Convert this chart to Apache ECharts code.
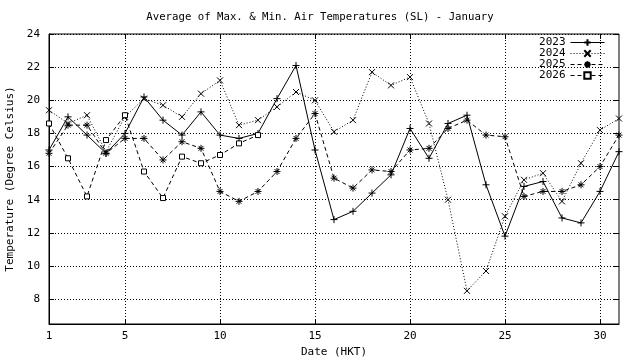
<!DOCTYPE html>
<html>
<head>
<meta charset="utf-8">
<script src="https://cdn.jsdelivr.net/npm/echarts@6/dist/echarts.min.js"></script>
<style>html,body{margin:0;padding:0;background:#fff}#c{width:640px;height:360px}</style>
</head>
<body>
<div id="c"></div>
<script>
var days = [1,2,3,4,5,6,7,8,9,10,11,12,13,14,15,16,17,18,19,20,21,22,23,24,25,26,27,28,29,30,31];
var t2023 = [17.0,19.0,17.9,16.8,18.0,20.2,18.8,17.9,19.3,17.9,17.7,18.0,20.1,22.1,17.0,12.8,13.3,14.4,15.5,18.3,16.5,18.6,19.1,14.9,11.8,14.8,15.1,12.9,12.6,14.5,16.9];
var t2024 = [19.4,18.6,19.1,16.9,19.0,20.1,19.7,19.0,20.4,21.2,18.5,18.8,19.6,20.5,20.0,18.1,18.8,21.7,20.9,21.4,18.6,14.0,8.5,9.7,13.0,15.2,15.6,13.9,16.2,18.2,18.9];
var t2025 = [16.8,18.5,18.5,16.8,17.7,17.7,16.4,17.5,17.1,14.5,13.9,14.5,15.7,17.7,19.2,15.3,14.7,15.8,15.7,17.0,17.1,18.3,18.8,17.9,17.8,14.2,14.5,14.5,14.9,16.0,17.9];
var t2026 = [18.6,16.5,14.2,17.6,19.1,15.7,14.1,16.6,16.2,16.7,17.4,17.9];
var seriesNames = ['2023','2024','2025','2026'];
var xTicks = [1,5,10,15,20,25,30];
var yTicks = [8,10,12,14,16,18,20,22,24];

function pairs(vals){ return vals.map(function(v,i){ return [days[i], v]; }); }

var FONT = 'DejaVu Sans Mono';
var PLUS = 'path://M5,0L5,10M0,5L10,5';
var CROSS = 'path://M0,0L10,10M10,0L0,10';
var STAR = 'path://M5,0L5,10M0,5L10,5M1.5,1.5L8.5,8.5M8.5,1.5L1.5,8.5';
var SQUARE = 'path://M0,0L10,0L10,10L0,10Z';

function mk(name, vals, sym, dash, size){
  var sq = sym === SQUARE;
  return {
    name: name, type: 'line', data: pairs(vals),
    symbol: sym, symbolSize: size, showSymbol: true,
    lineStyle: {color:'#000', width:1, type: dash},
    itemStyle: {color: sq ? '#fff' : 'rgba(0,0,0,0)', borderColor:'#000', borderWidth:1},
    emphasis: {disabled:true}, animation:false, z: 3
  };
}

var chart = echarts.init(document.getElementById('c'), null, {renderer:'canvas'});
var tickX = {show:true, inside:true, length:5, lineStyle:{color:'#000'}, customValues: xTicks};
var tickY = {show:true, inside:true, length:5, lineStyle:{color:'#000'}, customValues: yTicks};
var gridLine = {show:true, lineStyle:{color:'#000', type:[1,2], width:1}};
chart.setOption({
  animation:false,
  backgroundColor:'#fff',
  title: {text:'Average of Max. & Min. Air Temperatures (SL) - January', left:'center', top:7,
    textStyle:{fontFamily:FONT, fontSize:10.7, fontWeight:'normal', color:'#000'}},
  legend: {orient:'vertical', right:35, top:37, padding:0, align:'right', itemWidth:34, itemHeight:8, itemGap:0,
    data: seriesNames, textStyle:{fontFamily:FONT, fontSize:11, lineHeight:10.7, color:'#000'}, selectedMode:false,
    lineStyle:{width:1}},
  grid: {left:49, right:21, top:34, bottom:36, outerBoundsMode:'none', containLabel:false,
    show:true, borderColor:'#000', borderWidth:1, backgroundColor:'transparent'},
  xAxis: [{
    type:'value', min:1, max:31,
    name:'Date (HKT)', nameLocation:'middle', nameGap:23,
    nameTextStyle:{fontFamily:FONT, fontSize:11, color:'#000'},
    axisLine:{show:true, lineStyle:{color:'#000'}}, axisTick:tickX,
    axisLabel:{fontFamily:FONT, fontSize:11, color:'#000', margin:7, customValues: xTicks},
    splitLine:gridLine
  },{
    type:'value', min:1, max:31, position:'top',
    axisLine:{show:false}, axisTick:tickX, axisLabel:{show:false}, splitLine:{show:false}
  }],
  yAxis: [{
    type:'value', min:6.5, max:24,
    name:'Temperature (Degree Celsius)', nameLocation:'middle', nameGap:33,
    nameTextStyle:{fontFamily:FONT, fontSize:11, color:'#000'},
    axisLine:{show:true, lineStyle:{color:'#000'}}, axisTick:tickY,
    axisLabel:{fontFamily:FONT, fontSize:11, color:'#000', margin:9, customValues: yTicks},
    splitLine:gridLine
  },{
    type:'value', min:6.5, max:24, position:'right',
    axisLine:{show:false}, axisTick:tickY, axisLabel:{show:false}, splitLine:{show:false}
  }],
  series: [
    mk(seriesNames[0], t2023, PLUS, 'solid', 7),
    mk(seriesNames[1], t2024, CROSS, [1,2], 6),
    mk(seriesNames[2], t2025, STAR, [4,3], 7),
    mk(seriesNames[3], t2026, SQUARE, [4,3], 5)
  ]
});
</script>
</body>
</html>
